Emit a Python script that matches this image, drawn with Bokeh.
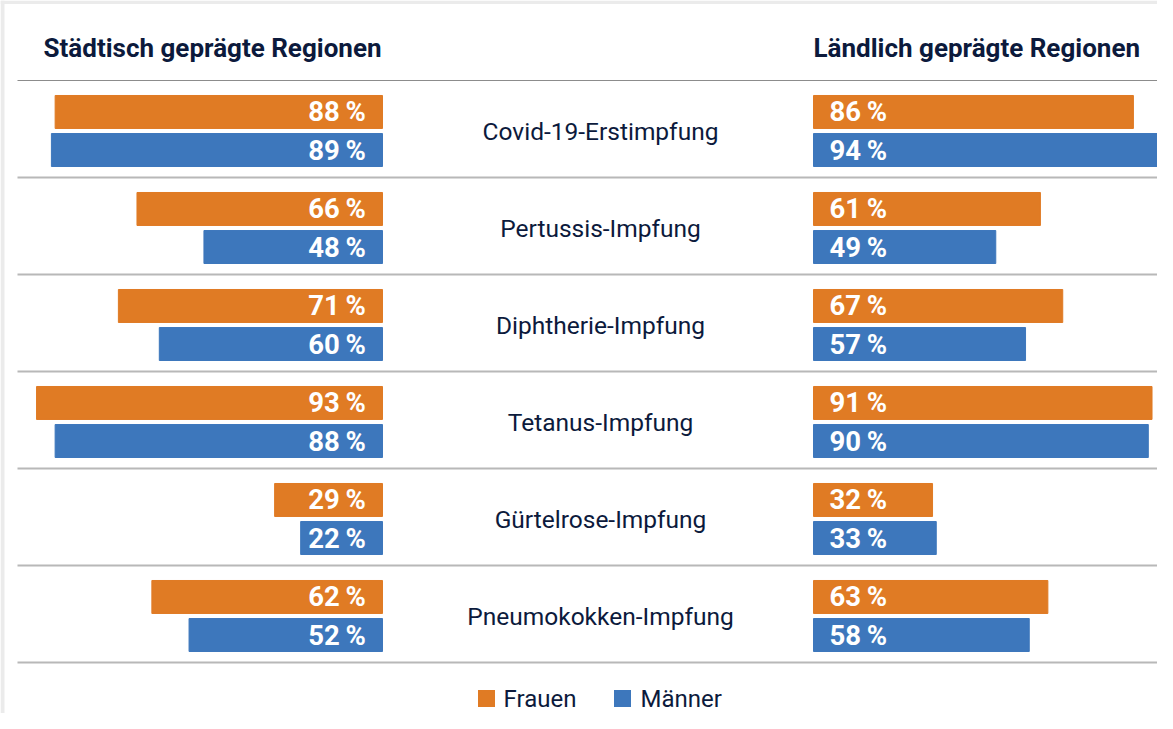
from bokeh.plotting import figure
from bokeh.models import Range1d, ColumnDataSource
from bokeh.core.properties import value
from bokeh.embed import file_html
from bokeh.resources import INLINE

# ---- data ----
categories = ["Covid-19-Erstimpfung", "Pertussis-Impfung", "Diphtherie-Impfung",
              "Tetanus-Impfung", "Gürtelrose-Impfung", "Pneumokokken-Impfung"]
stadt_frauen = [88, 66, 71, 93, 29, 62]
stadt_maenner = [89, 48, 60, 88, 22, 52]
land_frauen = [86, 61, 67, 91, 32, 63]
land_maenner = [94, 49, 57, 90, 33, 58]
titles = ["Städtisch geprägte Regionen", "Ländlich geprägte Regionen"]
series_names = ["Frauen", "Männer"]

ORANGE = "#E07B24"
BLUE = "#3D77BC"
NAVY = "#0C1A3C"
BOLD_FONT = "Roboto"
REG_FONT = "Roboto"

W, H = 1157, 713
p = figure(width=W, height=H, output_backend="svg", toolbar_location=None,
           x_range=Range1d(0, W), y_range=Range1d(H, 0),
           min_border=0, outline_line_color=None)
p.axis.visible = False
p.grid.visible = False
p.background_fill_color = "white"
p.border_fill_color = "white"

# percent scales for the two panels (3.72 px per percent)
PX = 3.72
L0, R0 = 382, 813
p.extra_x_ranges = {
    "left": Range1d(L0 / PX, (L0 - W) / PX),
    "right": Range1d(-R0 / PX, (W - R0) / PX),
}
# row scale: row i centred at 130.5 + 97 i
RC, RP = 130.5, 97.0
p.extra_y_ranges = {"rows": Range1d((H - RC) / RP, -RC / RP)}

n = len(categories)
idx = list(range(n))
OFF, BH = 0.196, 0.34

def pct(vals):
    return [f"{v}\u2009%" for v in vals]

src = ColumnDataSource(dict(
    cat=categories,
    y_f=[i - OFF for i in idx], y_m=[i + OFF for i in idx], y=idx,
    sf=stadt_frauen, sm=stadt_maenner, lf=land_frauen, lm=land_maenner,
    sf_t=pct(stadt_frauen), sm_t=pct(stadt_maenner),
    lf_t=pct(land_frauen), lm_t=pct(land_maenner),
))

# light grey page frame (top and left)
p.quad(left=[0, 0], right=[4, W], bottom=[H, 3.5], top=[0, 0],
       color="#ebebeb", line_color=None)

# separator lines
line_rows = [k - 0.5206 for k in range(n + 1)]
for k, r in enumerate(line_rows):
    p.segment(x0=17, x1=W, y0=r, y1=r, y_range_name="rows",
              line_color="#8c8c8c" if k == 0 else "#b8b8b8",
              line_width=1.2 if k == 0 else 1.8)

# bars
p.hbar(y="y_f", left=0, right="sf", height=BH, source=src, color=ORANGE,
       x_range_name="left", y_range_name="rows")
p.hbar(y="y_m", left=0, right="sm", height=BH, source=src, color=BLUE,
       x_range_name="left", y_range_name="rows")
p.hbar(y="y_f", left=0, right="lf", height=BH, source=src, color=ORANGE,
       x_range_name="right", y_range_name="rows")
p.hbar(y="y_m", left=0, right="lm", height=BH, source=src, color=BLUE,
       x_range_name="right", y_range_name="rows")

# value labels
for ycol, tcol in (("y_f", "sf_t"), ("y_m", "sm_t")):
    p.text(x=4.5, y=ycol, text=tcol, source=src, x_range_name="left", y_range_name="rows",
           text_align="right", text_baseline="middle", text_color="white",
           text_font=value(BOLD_FONT), text_font_style="bold", text_font_size="27.5px")
for ycol, tcol in (("y_f", "lf_t"), ("y_m", "lm_t")):
    p.text(x=4.3, y=ycol, text=tcol, source=src, x_range_name="right", y_range_name="rows",
           text_align="left", text_baseline="middle", text_color="white",
           text_font=value(BOLD_FONT), text_font_style="bold", text_font_size="27.5px")

# category labels
p.text(x=600, y="y", text="cat", source=src, y_range_name="rows",
       text_align="center", text_baseline="middle", text_color=NAVY,
       text_font=value(REG_FONT), text_font_size="24.5px")

# panel titles
p.text(x=[381], y=[47], text=[titles[0]], text_align="right", text_baseline="middle",
       text_color=NAVY, text_font=value(BOLD_FONT), text_font_style="bold",
       text_font_size="26px")
p.text(x=[813], y=[47], text=[titles[1]], text_align="left", text_baseline="middle",
       text_color=NAVY, text_font=value(BOLD_FONT), text_font_style="bold",
       text_font_size="26px")

# legend
p.scatter(x=[486, 622], y=[698, 698], marker="square", size=17,
          color=[ORANGE, BLUE], line_color=None)
p.text(x=[503, 640], y=[698, 698], text=series_names, text_align="left",
       text_baseline="middle", text_color=NAVY, text_font=value(REG_FONT),
       text_font_size="24px")

open("out.html", "w").write(file_html(p, INLINE))
